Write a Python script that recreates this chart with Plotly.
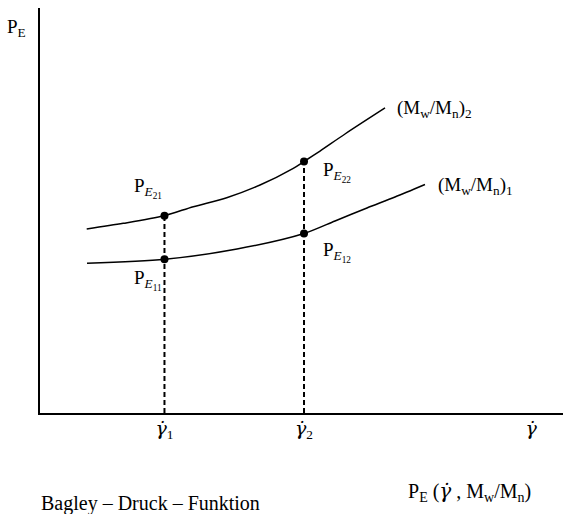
import plotly.graph_objects as go

# ---- data (arbitrary units) ----
curve1_x = [0.899, 2.390, 3.767, 5.048, 5.641, 6.252, 6.788, 7.361]
curve1_y = [3.696, 3.795, 4.049, 4.432, 4.741, 5.062, 5.333, 5.642]
curve2_x = [0.893, 1.592, 2.371, 2.931, 3.570, 4.207, 4.843, 5.048, 5.354, 5.832, 6.597]
curve2_y = [4.544, 4.683, 4.870, 5.094, 5.316, 5.630, 6.042, 6.210, 6.469, 6.889, 7.531]

gamma_pts = [2.380, 5.048]        # shear rates gamma1, gamma2
pe_curve1 = [3.795, 4.432]        # P_E11, P_E12
pe_curve2 = [4.870, 6.210]        # P_E21, P_E22

GD = "<span style='font-family:DejaVu Serif'><i>γ̇</i></span>"
tick_vals = [2.380, 5.048, 9.39]
tick_text = [GD + "<sub>1</sub>", GD + "<sub>2</sub>", GD]

FONT = "Times New Roman, Liberation Serif, serif"
W, H = 563, 514
L, R, T, B = 40, 0, 8, 101
PW, PH = W - L - R, H - T - B

def paper(px, py):
    return (px - L) / PW, (H - B - py) / PH

fig = go.Figure()

# dashed verticals
for g, top in zip(gamma_pts, pe_curve2):
    fig.add_trace(go.Scatter(x=[g, g], y=[0, top], mode="lines",
                             line=dict(color="black", width=2, dash="5px,3px"),
                             hoverinfo="skip", showlegend=False))

fig.add_trace(go.Scatter(x=curve1_x, y=curve1_y, mode="lines",
                         line=dict(color="black", width=1.5, shape="spline", smoothing=0.8),
                         showlegend=False))
fig.add_trace(go.Scatter(x=curve2_x, y=curve2_y, mode="lines",
                         line=dict(color="black", width=1.5, shape="spline", smoothing=0.8),
                         showlegend=False))
fig.add_trace(go.Scatter(x=gamma_pts + gamma_pts, y=pe_curve1 + pe_curve2, mode="markers",
                         marker=dict(color="black", size=8), showlegend=False))

labels = [
    ("P<sub>E</sub>", 5, 28, 19),
    ("(M<sub>w</sub>/M<sub>n</sub>)<sub>2</sub>", 395, 109, 19),
    ("(M<sub>w</sub>/M<sub>n</sub>)<sub>1</sub>", 436, 186, 19),
    ("P<sub><i>E</i><sub>21</sub></sub>", 132, 188, 19),
    ("P<sub><i>E</i><sub>22</sub></sub>", 321, 172, 19),
    ("P<sub><i>E</i><sub>12</sub></sub>", 321, 252, 19),
    ("P<sub><i>E</i><sub>11</sub></sub>", 132, 280, 19),
    ("Bagley – Druck – Funktion", 39, 503, 20),
    ("P<sub>E</sub> (" + GD + " , M<sub>w</sub>/M<sub>n</sub>)", 406, 492, 20),
]
for txt, px, py, fs in labels:
    xp, yp = paper(px, py)
    fig.add_annotation(text=txt, x=xp, y=yp, xref="paper", yref="paper",
                       xanchor="left", yanchor="middle", showarrow=False,
                       font=dict(family=FONT, size=fs, color="black"))

fig.update_layout(
    width=W, height=H,
    margin=dict(l=L, r=R, t=T, b=B),
    paper_bgcolor="white", plot_bgcolor="white",
    font=dict(family=FONT, size=19, color="black"),
    xaxis=dict(range=[0, 10], showgrid=False, zeroline=False, showline=True,
               linecolor="black", linewidth=1.5, ticks="",
               tickvals=tick_vals, ticktext=tick_text, ticklabelstandoff=-3),
    yaxis=dict(range=[0, 10], showgrid=False, zeroline=False, showline=True,
               linecolor="black", linewidth=1.5, showticklabels=False, ticks=""),
)

fig.write_html("out.html", config={"displayModeBar": False},
               post_script="document.body.style.margin='0';")
